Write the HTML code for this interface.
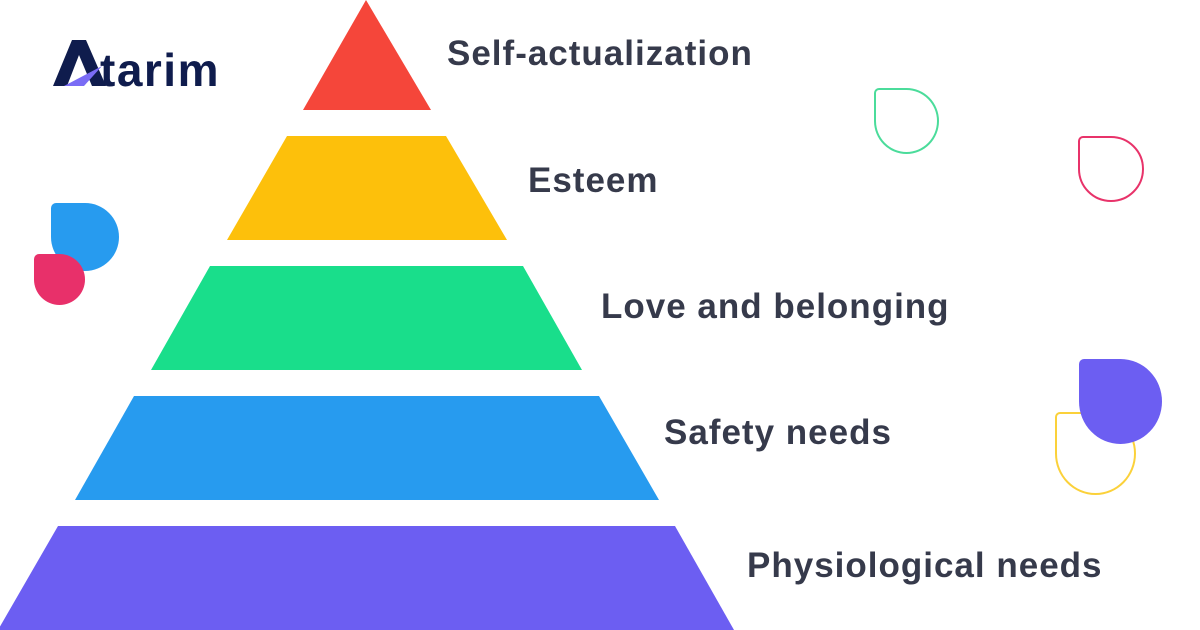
<!DOCTYPE html>
<html><head><meta charset="utf-8"><style>
body{margin:0;width:1200px;height:630px;overflow:hidden;background:#fff;position:relative;font-family:"Liberation Sans",sans-serif}
.t{position:absolute;font-weight:bold;font-size:35px;letter-spacing:1px;color:#363a4b;line-height:1;white-space:nowrap}
.d{position:absolute;box-sizing:border-box;border-radius:5px 50% 50% 50%}
</style></head><body>
<svg width="1200" height="630" style="position:absolute;left:0;top:0">
<polygon points="366,0 303,110 431,110" fill="#F5463A"/>
<polygon points="287,136 446,136 507,240 227,240" fill="#FDC00B"/>
<polygon points="210,266 523,266 582,370 151,370" fill="#19DE8B"/>
<polygon points="134,396 599,396 659,500 75,500" fill="#279BEF"/>
<polygon points="58,526 675,526 734,630 -2,630" fill="#6C5EF2"/>
<polygon points="53,86 72,40 86,40 106,86 92,86 79,55 67,86" fill="#0f1c4d"/>
<polygon points="64,86 102,66 84,86" fill="#7a6cf5"/>
<text x="100" y="86" font-family="Liberation Sans" font-weight="bold" font-size="46" letter-spacing="1.5" fill="#0f1c4d">tarim</text>
</svg>
<div class="d" style="left:874px;top:88px;width:65px;height:66px;border:2px solid #4bdc9b"></div>
<div class="d" style="left:1078px;top:136px;width:66px;height:66px;border:2px solid #e8336a"></div>
<div class="d" style="left:1055px;top:412px;width:81px;height:83px;border:2px solid #fbd13a"></div>
<div class="d" style="left:1079px;top:359px;width:83px;height:85px;background:#6C5EF2"></div>
<div class="d" style="left:51px;top:203px;width:68px;height:68px;background:#279BEF"></div>
<div class="d" style="left:34px;top:254px;width:51px;height:51px;background:#E8306A"></div>
<div class="t" style="left:447px;top:36px">Self-actualization</div>
<div class="t" style="left:528px;top:163px">Esteem</div>
<div class="t" style="left:601px;top:289px">Love and belonging</div>
<div class="t" style="left:664px;top:415px">Safety needs</div>
<div class="t" style="left:747px;top:548px">Physiological needs</div>
</body></html>
